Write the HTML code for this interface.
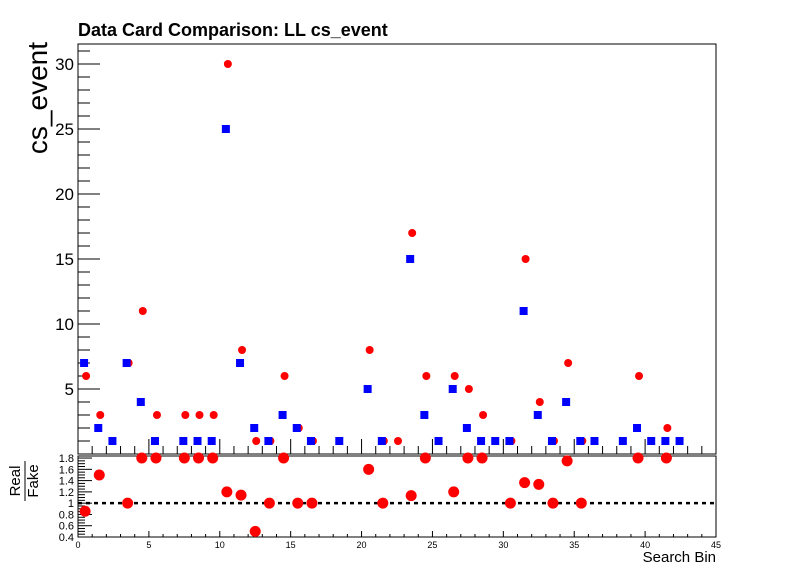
<!DOCTYPE html>
<html><head><meta charset="utf-8"><style>
body{margin:0;background:#fff;}
svg{display:block;font-family:"Liberation Sans",sans-serif;}
</style></head><body>
<svg id="c" width="796" height="572"></svg>
<script>
const bins = [0,1,2,3,4,5,6,7,8,9,10,11,12,13,14,15,16,17,18,19,20,21,22,23,24,25,26,27,28,29,30,31,32,33,34,35,36,37,38,39,40,41,42];
const realVals = [6,3,null,7,11,3,null,3,3,3,30,8,1,1,6,2,1,null,null,null,8,1,1,17,6,null,6,5,3,null,1,15,4,1,7,1,null,null,null,6,null,2,null];
const fakeVals = [7,2,1,7,4,1,null,1,1,1,25,7,2,1,3,2,1,null,1,null,5,1,null,15,3,1,5,2,1,1,1,11,3,1,4,1,1,null,1,2,1,1,1];
const yTickLabels = [5,10,15,20,25,30];
const rTickLabels = ["0.4","0.6","0.8","1","1.2","1.4","1.6","1.8"];
const xTickLabels = [0,5,10,15,20,25,30,35,40,45];

const NS="http://www.w3.org/2000/svg";
const svg=document.getElementById('c');
function mk(tag,attrs,parent){const e=document.createElementNS(NS,tag);for(const k in attrs)e.setAttribute(k,attrs[k]);(parent||svg).appendChild(e);return e;}
const L=78,R=716,T1=44,B1=454,T2=456,B2=537;
const xs=v=>L+(v/45)*(R-L);
const ys=v=>B1-v*13;
const yr=v=>B2-(v-0.4)*56.4;

let t=mk('text',{x:78,y:36,'font-size':18,'font-weight':'bold',fill:'#000'});t.textContent='Data Card Comparison: LL cs_event';

let f1=mk('rect',{x:L,y:T1,width:R-L,height:B1-T1,fill:'none',stroke:'#000','stroke-width':1});

let f2=mk('rect',{x:L,y:T2,width:R-L,height:B2-T2,fill:'none',stroke:'#000','stroke-width':1});


for(let v=1;v<=31;v++){const y=ys(v);const maj=v%5===0;
 let l=mk('line',{x1:L,x2:L+(maj?22:12),y1:y,y2:y,stroke:'#000'});
 }
yTickLabels.forEach(v=>{let tx=mk('text',{x:L-4,y:ys(v)+6,'font-size':17,'text-anchor':'end'});tx.textContent=v;
 });
let yt=mk('text',{x:0,y:0,'font-size':28,'text-anchor':'end',transform:'translate(47 42) rotate(-90)'});yt.textContent='cs_event';


for(let v=0;v<=45;v++){const x=xs(v);const maj=v%5===0;
 let a=mk('line',{x1:x,x2:x,y1:B1,y2:B1-(maj?15:8),stroke:'#000'});
 
 let b=mk('line',{x1:x,x2:x,y1:B2,y2:B2-(maj?6:3),stroke:'#000'});
 }
xTickLabels.forEach(v=>{let tx=mk('text',{x:xs(v),y:548,'font-size':9,'text-anchor':'middle'});tx.textContent=v;
 });
let xt=mk('text',{x:716,y:562,'font-size':15,'text-anchor':'end'});xt.textContent='Search Bin';


for(let i=0;i<=28;i++){const v=0.4+i*0.05;const y=yr(v);const maj=i%4===0;
 let l=mk('line',{x1:L,x2:L+(maj?14:7),y1:y,y2:y,stroke:'#000'});
 }
rTickLabels.forEach(s=>{let tx=mk('text',{x:L-4,y:yr(parseFloat(s))+4,'font-size':11,'text-anchor':'end'});tx.textContent=s;
 });
let rt1=mk('text',{x:0,y:0,'font-size':15,'text-anchor':'middle',transform:'translate(20 481) rotate(-90)'});rt1.textContent='Real';

let rt2=mk('text',{x:0,y:0,'font-size':15,'text-anchor':'middle',transform:'translate(38 481) rotate(-90)'});rt2.textContent='Fake';

let rl=mk('line',{x1:25,x2:25,y1:461,y2:501,stroke:'#000'});

let one=mk('line',{x1:L,x2:R,y1:yr(1),y2:yr(1),stroke:'#000','stroke-width':2.5,'stroke-dasharray':'4,4'});


bins.forEach((b,i)=>{const x=xs(b+0.5);
 if(realVals[i]!=null){let c=mk('circle',{cx:x+1,cy:ys(realVals[i]),r:4,fill:'#ff0000'});
  }
 if(realVals[i]!=null&&fakeVals[i]!=null){let r=realVals[i]/fakeVals[i];if(r>1.8)r=1.8;
  let c=mk('circle',{cx:x,cy:yr(r),r:5.5,fill:'#ff0000'});
  }
});
bins.forEach((b,i)=>{const x=xs(b+0.5);
 if(fakeVals[i]!=null){let s=mk('rect',{x:x-5,y:ys(fakeVals[i])-4,width:8,height:8,fill:'#0000ff'});
  }
});
</script>
</body></html>
